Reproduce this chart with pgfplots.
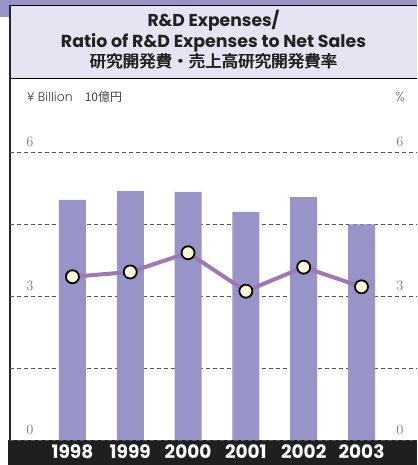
\documentclass[border=0pt]{standalone}
\usepackage{fontspec}
\setmainfont{Poppins}
\newfontfamily\poplight{Poppins}[UprightFont=* Light]
\newfontfamily\cjk{Noto Sans CJK JP}
\usepackage{pgfplots}
\pgfplotsset{compat=1.18}
\definecolor{barc}{HTML}{9894C8}
\definecolor{titlebg}{HTML}{E4E4F2}
\definecolor{linec}{HTML}{9D78B5}
\definecolor{markc}{HTML}{FFFBD9}
\definecolor{gridc}{HTML}{555555}
\definecolor{tickc}{HTML}{7A7A7A}
\definecolor{txtc}{HTML}{222222}
\begin{document}
\begin{tikzpicture}[x=1pt,y=1pt]
\useasboundingbox (0,0) rectangle (417,465);
% frame and backgrounds
\fill[barc] (0,460) rectangle (417,465);
\fill[barc] (0,448) rectangle (10,465);
\fill[titlebg] (10,387) rectangle (417,459);
\draw[black,line width=1.6pt] (9,459.5) -- (417,459.5);
\draw[black,line width=1.6pt] (10,386.5) -- (417,386.5);
\draw[black!85,line width=2pt] (9.5,460) -- (9.5,25);
\fill[black!88] (8,0) rectangle (417,25);
% titles
\node[anchor=base,text=txtc,inner sep=0pt] at (213.5,438) {\resizebox{132pt}{!}{\bfseries\fontsize{16}{16}\selectfont R\&D Expenses/}};
\node[anchor=base,text=txtc,inner sep=0pt] at (213.5,417.5) {\resizebox{305pt}{!}{\bfseries\fontsize{16}{16}\selectfont Ratio of R\&D Expenses to Net Sales}};
\foreach \dx in {0,0.35,0.7}{
\node[anchor=center,text=txtc,inner sep=0pt] at (213.15+\dx,403.5) {\cjk\fontsize{16.5}{16.5}\selectfont 研究開発費・売上高研究開発費率};
}
\node[anchor=west,text=black!75,inner sep=0pt] at (27,368) {\poplight\fontsize{12.5}{12.5}\selectfont ¥ Billion\hspace{12pt}{\cjk\fontsize{12}{12}\selectfont 10億円}};
\node[anchor=center,text=black!60,inner sep=0pt] at (400,368) {\poplight\fontsize{13}{13}\selectfont \%};
\begin{axis}[
  at={(10pt,25pt)}, anchor=south west,
  scale only axis, width=407pt, height=361pt,
  xmin=-1.08, xmax=5.96, ymin=0, ymax=7.52,
  axis line style={draw=none}, tick style={draw=none},
  xtick={0,1,2,3,4,5},
  xticklabels={1998,1999,2000,2001,2002,2003},
  xticklabel style={text=white, font=\bfseries\fontsize{18.5}{18.5}\selectfont, anchor=base, inner sep=0pt, yshift=-19pt},
  ytick={0,3,6}, minor ytick={1.5,4.5},
  ymajorgrids, yminorgrids,
  major grid style={gridc, dash pattern=on 4pt off 3pt, line width=0.8pt},
  minor grid style={gridc, dash pattern=on 4pt off 3pt, line width=0.8pt},
  yticklabel style={text=tickc, font=\poplight\fontsize{14}{14}\selectfont, anchor=south, inner sep=0pt, xshift=20pt, yshift=5pt},
  clip=false,
]
\addplot[ybar, bar width=27pt, fill=barc, draw=none] coordinates {(0,5.00) (1,5.19) (2,5.17) (3,4.75) (4,5.06) (5,4.49)};
\addplot[linec, line width=4pt, mark=*, mark size=6.5pt, mark options={fill=markc, draw=black, line width=1.8pt}] coordinates {(0,3.40) (1,3.50) (2,3.90) (3,3.10) (4,3.60) (5,3.19)};
\end{axis}
\begin{axis}[
  at={(10pt,25pt)}, anchor=south west,
  scale only axis, width=407pt, height=361pt,
  xmin=-1.08, xmax=5.96, ymin=0, ymax=7.52,
  hide x axis, axis y line*=right,
  axis line style={draw=none}, tick style={draw=none},
  ytick={0,3,6},
  yticklabel style={text=tickc, font=\poplight\fontsize{14}{14}\selectfont, anchor=south, inner sep=0pt, xshift=-17pt, yshift=5pt},
]
\addplot[draw=none] coordinates {(0,0)};
\end{axis}
\end{tikzpicture}
\end{document}
